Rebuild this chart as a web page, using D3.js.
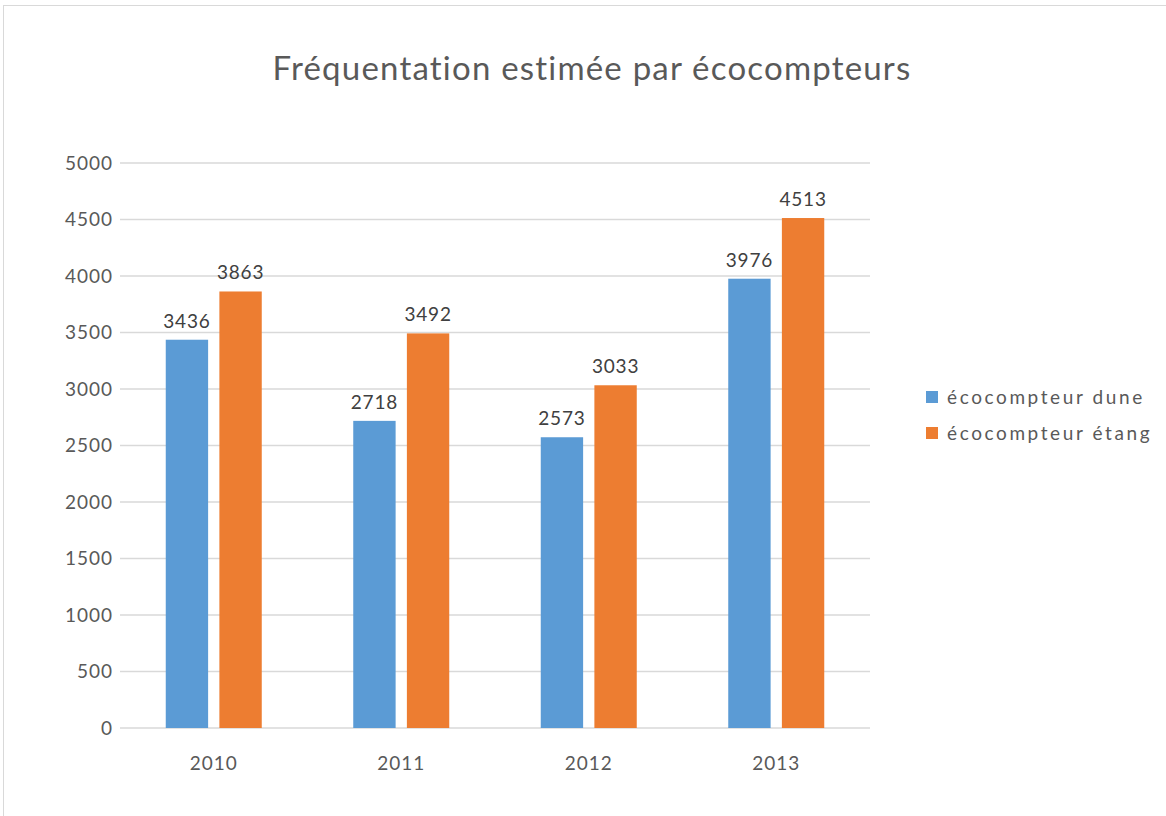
<!DOCTYPE html>
<html>
<head>
<meta charset="utf-8">
<script src="https://cdn.jsdelivr.net/npm/d3@7"></script>
<style>
  body { margin: 0; background: #fff; }
  text { font-family: Lato, "Open Sans", sans-serif; }
</style>
</head>
<body>
<script>
// data
var years = ["2010", "2011", "2012", "2013"];
var seriesNames = ["écocompteur dune", "écocompteur étang"];
var dune = [3436, 2718, 2573, 3976];
var etang = [3863, 3492, 3033, 4513];
var yTicks = [0, 500, 1000, 1500, 2000, 2500, 3000, 3500, 4000, 4500, 5000];
var colors = ["#5b9bd5", "#ed7d31"];

var w = 1166, h = 816;
var m = {left: 120, right: 296, top: 163, bottom: 88};

var svg = d3.select("body").append("svg")
    .attr("width", w)
    .attr("height", h);

// chart frame
svg.append("rect")
    .attr("x", 3.5).attr("y", 5.5)
    .attr("width", w + 10).attr("height", h + 10)
    .attr("fill", "#fff")
    .attr("stroke", "#d9d9d9");

svg.append("text")
    .attr("x", 592).attr("y", 80)
    .attr("text-anchor", "middle")
    .style("font-size", "33px")
    .style("letter-spacing", "1.2px")
    .style("fill", "#595959")
    .text("Fréquentation estimée par écocompteurs");

var x = d3.scaleBand().domain(years).range([m.left, w - m.right]);
var x1 = d3.scaleBand().domain([0, 1])
    .range([x.bandwidth() * 0.244, x.bandwidth() * 0.756])
    .paddingInner(0.21);
var y = d3.scaleLinear().domain([0, 5000]).range([h - m.bottom, m.top]);

// gridlines
svg.selectAll("line.grid")
    .data(yTicks)
  .enter().append("line")
    .attr("class", "grid")
    .attr("x1", m.left).attr("x2", w - m.right)
    .attr("y1", function(d) { return y(d); })
    .attr("y2", function(d) { return y(d); })
    .attr("stroke", "#d9d9d9")
    .attr("stroke-width", 1.3);

// y labels
svg.selectAll("text.ylab")
    .data(yTicks)
  .enter().append("text")
    .attr("class", "ylab")
    .attr("x", m.left - 7)
    .attr("y", function(d) { return y(d); })
    .attr("dy", "0.35em")
    .attr("text-anchor", "end")
    .style("font-size", "19px")
    .style("letter-spacing", "1px")
    .style("fill", "#595959")
    .text(function(d) { return d; });

// x labels
svg.selectAll("text.xlab")
    .data(years)
  .enter().append("text")
    .attr("class", "xlab")
    .attr("x", function(d) { return x(d) + x.bandwidth() / 2; })
    .attr("y", h - m.bottom + 42)
    .attr("text-anchor", "middle")
    .style("font-size", "19px")
    .style("letter-spacing", "1px")
    .style("fill", "#595959")
    .text(function(d) { return d; });

var series = [dune, etang];
series.forEach(function(vals, si) {
  var g = svg.append("g");
  g.selectAll("rect")
      .data(vals)
    .enter().append("rect")
      .attr("x", function(d, i) { return x(years[i]) + x1(si); })
      .attr("y", function(d) { return y(d); })
      .attr("width", x1.bandwidth())
      .attr("height", function(d) { return y(0) - y(d); })
      .attr("fill", colors[si]);
  g.selectAll("text")
      .data(vals)
    .enter().append("text")
      .attr("x", function(d, i) { return x(years[i]) + x1(si) + x1.bandwidth() / 2; })
      .attr("y", function(d) { return y(d) - 12; })
      .attr("text-anchor", "middle")
      .style("font-size", "19px")
      .style("letter-spacing", "0.8px")
      .style("fill", "#404040")
      .text(function(d) { return d; });
});

// legend
var leg = svg.selectAll("g.leg")
    .data(seriesNames)
  .enter().append("g")
    .attr("class", "leg")
    .attr("transform", function(d, i) { return "translate(926," + (397 + i * 36) + ")"; });
leg.append("rect")
    .attr("x", 0).attr("y", -6)
    .attr("width", 12).attr("height", 12)
    .attr("fill", function(d, i) { return colors[i]; });
leg.append("text")
    .attr("x", 21).attr("dy", "0.35em")
    .style("font-size", "19px")
    .style("letter-spacing", "2.6px")
    .style("fill", "#595959")
    .text(function(d) { return d; });
</script>
</body>
</html>
